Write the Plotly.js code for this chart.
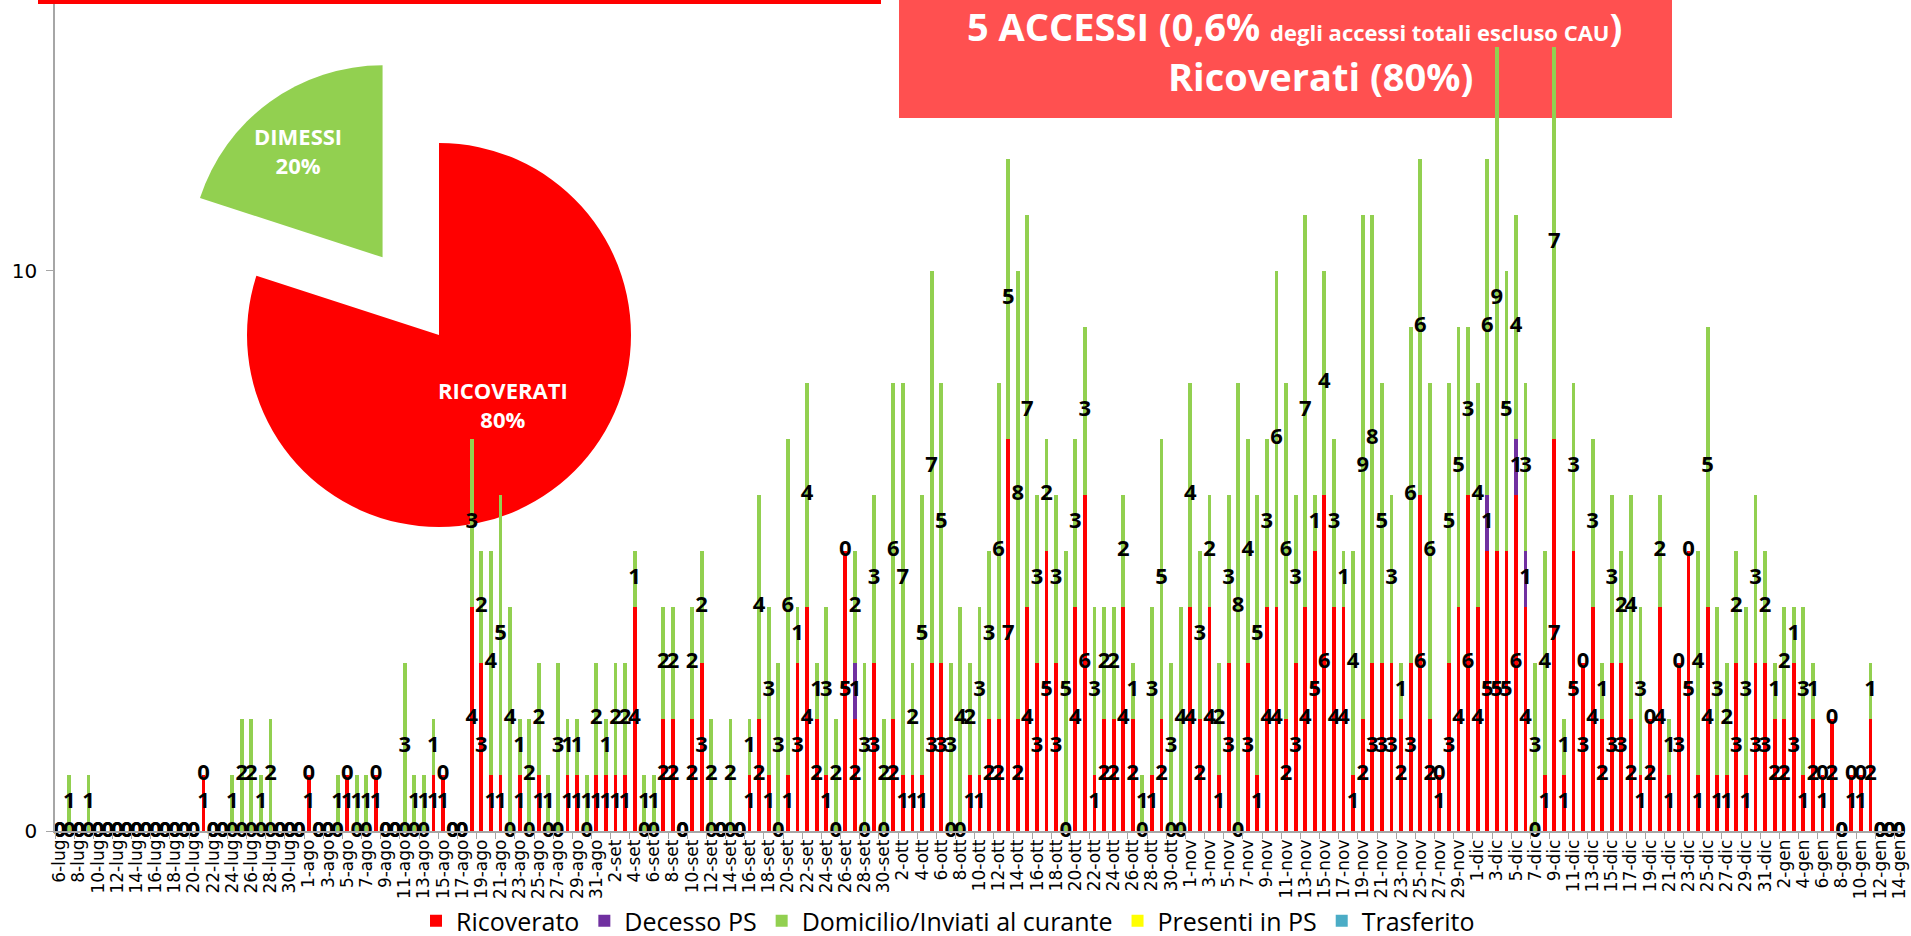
<!DOCTYPE html>
<html><head><meta charset="utf-8">
<script src="https://cdn.plot.ly/plotly-3.0.1.min.js"></script>
<style>
html,body{margin:0;padding:0;background:#fff;overflow:hidden}
#pie,#chart{position:absolute;left:0;top:0;width:1911px;height:936px}
</style></head><body>
<div id="pie"></div><div id="chart"></div>
<script>
// ---- categories (one per day, 6-lug .. 14-gen) ----
const months = ['lug','ago','set','ott','nov','dic','gen'];
const monthFirstDay = [6,1,1,1,1,1,1];
const monthLastDay = [31,31,30,31,30,31,14];
const days = [];
months.forEach((m,k)=>{ for(let d=monthFirstDay[k]; d<=monthLastDay[k]; d++) days.push(d+'-'+m); });

// ---- series values ----
const ricoverato = [
 0,0,0,0,0,0,0,0,0,0, 0,0,0,0,0,1,0,0,0,0, 0,0,0,0,0,0,1,0,0,0, 1,0,0,1,0,0,0,0,0,1,
 1,0,0,4,3,1,1,0,1,0, 1,0,0,1,1,0,1,1,1,1, 4,0,0,2,2,0,2,3,0,0, 0,0,1,2,1,0,1,3,4,2,
 1,0,5,2,0,3,0,2,1,1, 1,3,3,0,0,1,1,2,2,7, 2,4,3,5,3,0,4,6,1,2, 2,4,2,0,1,2,0,0,4,2,
 4,1,3,0,3,1,4,4,2,3, 4,5,6,4,4,1,2,3,3,3, 2,3,6,2,1,3,4,6,4,5, 5,5,6,4,0,1,7,1,5,3,
 4,2,3,3,2,1,2,4,1,3, 5,1,4,1,1,3,1,3,3,2, 2,3,1,2,1,2,0,1,1,2, 0,0,0];
const decessoPS = [
 0,0,0,0,0,0,0,0,0,0, 0,0,0,0,0,0,0,0,0,0, 0,0,0,0,0,0,0,0,0,0, 0,0,0,0,0,0,0,0,0,0,
 0,0,0,0,0,0,0,0,0,0, 0,0,0,0,0,0,0,0,0,0, 0,0,0,0,0,0,0,0,0,0, 0,0,0,0,0,0,0,0,0,0,
 0,0,0,1,0,0,0,0,0,0, 0,0,0,0,0,0,0,0,0,0, 0,0,0,0,0,0,0,0,0,0, 0,0,0,0,0,0,0,0,0,0,
 0,0,0,0,0,0,0,0,0,0, 0,0,0,0,0,0,0,0,0,0, 0,0,0,0,0,0,0,0,0,1, 0,0,1,1,0,0,0,0,0,0,
 0,0,0,0,0,0,0,0,0,0, 0,0,0,0,0,0,0,0,0,0, 0,0,0,0,0,0,0,0,0,0, 0,0,0];
const domicilio = [
 0,1,0,1,0,0,0,0,0,0, 0,0,0,0,0,0,0,0,1,2, 2,1,2,0,0,0,0,0,0,1, 0,1,1,0,0,0,3,1,1,1,
 0,0,0,3,2,4,5,4,1,2, 2,1,3,1,1,1,2,1,2,2, 1,1,1,2,2,0,2,2,2,0, 2,0,1,4,3,3,6,1,4,1,
 3,2,0,2,3,3,2,6,7,2, 5,7,5,3,4,2,3,3,6,5, 8,7,3,2,3,5,3,3,3,2, 2,2,1,1,3,5,3,4,4,3,
 2,2,3,8,4,5,3,6,6,3, 7,1,4,3,1,4,9,8,5,3, 1,6,6,6,0,5,5,3,4,6, 9,5,4,3,3,4,7,1,3,0,
 3,1,3,2,4,3,0,2,1,0, 0,4,5,3,2,2,3,3,2,1, 2,1,3,1,0,0,0,0,0,1, 0,0,0];
const presentiPS = [
 0,0,0,0,0,0,0,0,0,0, 0,0,0,0,0,0,0,0,0,0, 0,0,0,0,0,0,0,0,0,0, 0,0,0,0,0,0,0,0,0,0,
 0,0,0,0,0,0,0,0,0,0, 0,0,0,0,0,0,0,0,0,0, 0,0,0,0,0,0,0,0,0,0, 0,0,0,0,0,0,0,0,0,0,
 0,0,0,0,0,0,0,0,0,0, 0,0,0,0,0,0,0,0,0,0, 0,0,0,0,0,0,0,0,0,0, 0,0,0,0,0,0,0,0,0,0,
 0,0,0,0,0,0,0,0,0,0, 0,0,0,0,0,0,0,0,0,0, 0,0,0,0,0,0,0,0,0,0, 0,0,0,0,0,0,0,0,0,0,
 0,0,0,0,0,0,0,0,0,0, 0,0,0,0,0,0,0,0,0,0, 0,0,0,0,0,0,0,0,0,0, 0,0,0];
const trasferito = presentiPS.slice();

const seriesNames = ['Ricoverato','Decesso PS','Domicilio/Inviati al curante','Presenti in PS','Trasferito'];
const seriesColors = ['#FF0000','#7030A0','#92D050','#FFFF00','#4BACC6'];

// pie (inset)
const pieLabels = ['RICOVERATI','DIMESSI'];
const pieValues = [4,1];
const pieColors = ['#FF0000','#92D050'];

const boxLine1 = "5 ACCESSI (0,6% <span style='font-size:22px'>degli accessi totali escluso CAU</span>)";
const boxLine2 = "Ricoverati (80%)";

// ---------- pie (drawn underneath the bars) ----------
const FW=1911, FH=936;
const pieTotal = pieValues.reduce((a,b)=>a+b,0);
const pieText = pieLabels.map((l,k)=>l+'<br>'+Math.round(100*pieValues[k]/pieTotal)+'%');
const pieTextPos = [[503,404],[298,151]];
Plotly.newPlot('pie', [{
  type:'pie', values:pieValues, labels:pieLabels, sort:false, direction:'clockwise', rotation:0,
  pull:[0,0.5], marker:{colors:pieColors, line:{width:0}},
  domain:{x:[151/FW, 727/FW], y:[1-623/FH, 1-47/FH]},
  textinfo:'none', hoverinfo:'none', showlegend:false
}], {width:FW, height:FH, margin:{l:0,r:0,t:0,b:0}, paper_bgcolor:'#FFFFFF', showlegend:false,
  annotations: pieText.map((t,k)=>({xref:'paper', yref:'paper', x:pieTextPos[k][0]/FW, y:1-pieTextPos[k][1]/FH,
    xanchor:'center', yanchor:'middle', showarrow:false, text:t,
    font:{family:'Open Sans', size:22, color:'#FFFFFF', weight:'bold'}}))
}, {staticPlot:true});

// ---------- bars ----------
const values = [ricoverato, decessoPS, domicilio, presentiPS, trasferito];
const traces = values.map((v,k)=>({
  type:'bar', name:seriesNames[k], x:days, y:v, marker:{color:seriesColors[k], line:{width:0}},
  hoverinfo:'x+y+name'
}));

// data labels at the centre of each segment
const redY = ricoverato.map(r=>r/2);
const greenY = ricoverato.map((r,i)=>r+decessoPS[i]+domicilio[i]/2);
const pX=[], pY=[], pT=[];
decessoPS.forEach((p,i)=>{ if(p>0){ pX.push(days[i]); pY.push(ricoverato[i]+p/2); pT.push(String(p)); }});
const labFont = {family:'Open Sans', size:22, color:'#000000', weight:'bold'};
const txt = (x,y,t)=>({type:'scatter', mode:'text', x:x, y:y, text:t, textposition:'middle center',
  textfont:labFont, showlegend:false, hoverinfo:'skip', cliponaxis:false});
traces.push(txt(days, redY, ricoverato.map(String)));
traces.push(txt(pX, pY, pT));
traces.push(txt(days, greenY, domicilio.map(String)));

const W=FW, H=FH, L=55, R=7, T=0, B=105;
const pw=W-L-R, ph=H-T-B;
const px=x=>(x-L)/pw, py=y=>(H-B-y)/ph;

const layout = {
  width:W, height:H, margin:{l:L,r:R,t:T,b:B,pad:0,autoexpand:false},
  paper_bgcolor:'rgba(0,0,0,0)', plot_bgcolor:'rgba(0,0,0,0)',
  barmode:'stack', bargap:0.6,
  showlegend:true,
  legend:{orientation:'h', x:px(948), xanchor:'center', y:py(921), yanchor:'middle',
    font:{family:'Open Sans', size:25, color:'#000000'}, traceorder:'normal', bgcolor:'rgba(0,0,0,0)',
    itemwidth:30, tracegroupgap:0},
  xaxis:{type:'category', categoryorder:'array', categoryarray:days, range:[-0.5, days.length-0.5],
    tickmode:'linear', tick0:0, dtick:2, tickangle:-90,
    tickfont:{family:'DejaVu Sans', size:17, color:'#000000'},
    ticks:'outside', tickson:'boundaries', ticklen:6, tickcolor:'#A6A6A6',
    showline:true, linecolor:'#A6A6A6', linewidth:1.5, showgrid:false, zeroline:false, fixedrange:true},
  yaxis:{range:[0, 831/56.03], tickvals:[0,10], ticks:'outside', ticklen:7, tickcolor:'#A6A6A6',
    tickfont:{family:'DejaVu Sans', size:20, color:'#000000'}, ticklabelstandoff:5,
    showline:true, linecolor:'#A6A6A6', linewidth:1.5, showgrid:false, zeroline:false, fixedrange:true},
  shapes:[
    {type:'rect', xref:'paper', yref:'paper', x0:px(38), x1:px(881), y0:py(4), y1:py(-6),
      fillcolor:'#FF0000', line:{width:0}, layer:'above'},
    {type:'rect', xref:'paper', yref:'paper', x0:px(899), x1:px(1672), y0:py(118), y1:py(-6),
      fillcolor:'#FF5050', line:{width:0}, layer:'below'}
  ],
  annotations:[
    {xref:'paper', yref:'paper', x:px(1294), y:py(26), xanchor:'center', yanchor:'middle', showarrow:false,
      text:boxLine1, font:{family:'Open Sans', size:38, color:'#FFFFFF', weight:'bold'}},
    {xref:'paper', yref:'paper', x:px(1320), y:py(76), xanchor:'center', yanchor:'middle', showarrow:false,
      text:boxLine2, font:{family:'Open Sans', size:38, color:'#FFFFFF', weight:'bold'}}
  ]
};
Plotly.newPlot('chart', traces, layout, {displayModeBar:false});
</script>
</body></html>
